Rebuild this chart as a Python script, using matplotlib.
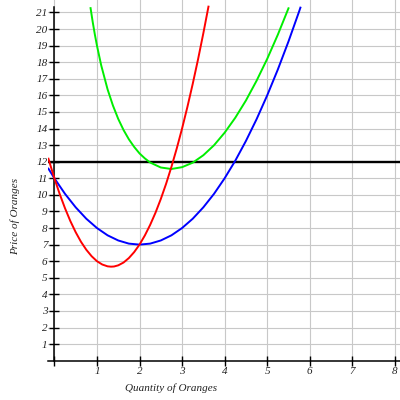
import matplotlib
matplotlib.use('Agg')
import matplotlib.pyplot as plt

# curves (quantity, price)
mc_x = [-0.14, 0, 0.125, 0.25, 0.375, 0.5, 0.625, 0.75, 0.875, 1.0, 1.125, 1.25, 1.33, 1.4,
        1.5, 1.625, 1.75, 1.875, 2.0, 2.125, 2.25, 2.375, 2.5, 2.625, 2.75, 2.875, 3.0,
        3.125, 3.25, 3.375, 3.5, 3.62]
mc_y = [12.18, 11, 10.05, 9.19, 8.42, 7.75, 7.17, 6.69, 6.30, 6.0, 5.80, 5.69, 5.67, 5.68,
        5.75, 5.92, 6.19, 6.55, 7.0, 7.55, 8.19, 8.92, 9.75, 10.67, 11.69, 12.80, 14.0,
        15.30, 16.69, 18.17, 19.75, 21.35]

avc_x = [-0.14, 0, 0.25, 0.5, 0.75, 1.0, 1.25, 1.5, 1.75, 2.0, 2.25, 2.5, 2.75, 3.0,
         3.25, 3.5, 3.75, 4.0, 4.25, 4.5, 4.75, 5.0, 5.25, 5.5, 5.75, 5.78]
avc_y = [11.58, 11, 10.06, 9.25, 8.56, 8.0, 7.56, 7.25, 7.06, 7.0, 7.06, 7.25, 7.56, 8.0,
         8.56, 9.25, 10.06, 11.0, 12.06, 13.25, 14.56, 16.0, 17.56, 19.25, 21.06, 21.29]

atc_x = [0.85, 0.9, 0.95, 1.0, 1.1, 1.25, 1.375, 1.5, 1.625, 1.75, 1.875, 2.0, 2.125, 2.25,
         2.5, 2.75, 3.0, 3.25, 3.5, 3.75, 4.0, 4.25, 4.5, 4.75, 5.0, 5.25, 5.5]
atc_y = [21.26, 20.43, 19.68, 19.0, 17.81, 16.36, 15.39, 14.58, 13.91, 13.35, 12.89, 12.5, 12.2, 11.95,
         11.65, 11.56, 11.67, 11.94, 12.39, 12.99, 13.75, 14.65, 15.69, 16.88, 18.2, 19.66, 21.25]

price = 12
price_x = [-0.14, 8.12]

x_ticks = [1, 2, 3, 4, 5, 6, 7, 8]
y_ticks = list(range(1, 22))

fnt = {'family': 'Liberation Serif', 'style': 'italic', 'size': 8, 'color': '#222222'}

fig = plt.figure(figsize=(4, 4), dpi=100)
ax = fig.add_axes([48 / 400, (400 - 360.7) / 400, 352 / 400, 360.7 / 400])
ax.set_xlim(-0.15, 8.12)
ax.set_ylim(0, 21.75)

ax.plot(price_x, [price, price], color='black', lw=1.7, zorder=3)
ax.plot(avc_x, avc_y, color='#0000ff', lw=1.4, zorder=4)
ax.plot(atc_x, atc_y, color='#00ee00', lw=1.4, zorder=4)
ax.plot(mc_x, mc_y, color='#ff0000', lw=1.4, zorder=4)

for s in ['top', 'right']:
    ax.spines[s].set_visible(False)
ax.spines['left'].set_position(('data', 0))
ax.spines['bottom'].set_position(('data', 0))
ax.spines['left'].set_bounds(0, 21.3)
for s in ['left', 'bottom']:
    ax.spines[s].set_linewidth(1.1)

ax.set_xticks([0] + x_ticks)
ax.set_xticklabels([''] + [str(t) for t in x_ticks], fontdict=fnt)
ax.set_yticks(y_ticks)
ax.set_yticklabels([str(t) for t in y_ticks], fontdict=fnt)
ax.tick_params(direction='inout', length=6.7, width=1.0, pad=1.5)

ax.grid(True, color='#c8c8c8', lw=0.8, zorder=0)
ax.set_axisbelow(True)

fig.text(171 / 400, 1 - 388 / 400, 'Quantity of Oranges', ha='center', va='center', fontdict=fnt)
fig.text(15 / 400, 1 - 216 / 400, 'Price of Oranges', ha='center', va='center',
         rotation=90, fontdict=fnt)

fig.savefig('out.png', dpi=100)
